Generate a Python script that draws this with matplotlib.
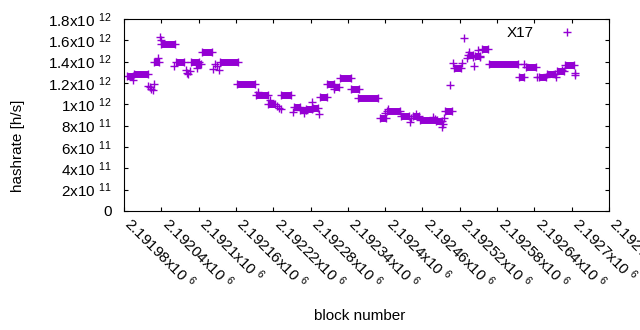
import matplotlib
matplotlib.use('Agg')
import matplotlib.pyplot as plt
import matplotlib.transforms as mtransforms

# Runs of consecutive blocks with identical hashrate (start block, end block, value in h/s)
run_start = [2191985, 2191996, 2192028, 2192040, 2192063, 2192088, 2192096, 2192105,
             2192134, 2192162, 2192192, 2192212, 2192233, 2192253, 2192263, 2192273,
             2192284, 2192296, 2192307, 2192317, 2192327, 2192345, 2192357, 2192391,
             2192403, 2192425, 2192445, 2192456, 2192482, 2192497, 2192511, 2192533,
             2192544, 2192555, 2192567, 2192615, 2192626, 2192647, 2192660, 2192676,
             2192690]
run_end = [2191994, 2192019, 2192036, 2192062, 2192076, 2192101, 2192104, 2192121,
           2192163, 2192191, 2192212, 2192223, 2192249, 2192263, 2192273, 2192282,
           2192292, 2192307, 2192318, 2192326, 2192345, 2192358, 2192389, 2192402,
           2192424, 2192439, 2192455, 2192483, 2192491, 2192507, 2192522, 2192541,
           2192553, 2192566, 2192614, 2192623, 2192643, 2192659, 2192673, 2192688,
           2192704]
run_value = [1.265e12, 1.282e12, 1.400e12, 1.563e12, 1.394e12, 1.394e12, 1.375e12, 1.488e12,
             1.394e12, 1.189e12, 1.085e12, 1.005e12, 1.085e12, 0.975e12, 0.947e12, 0.956e12,
             0.963e12, 1.072e12, 1.188e12, 1.160e12, 1.245e12, 1.141e12, 1.057e12, 0.869e12,
             0.9375e12, 0.893e12, 0.890e12, 0.850e12, 0.840e12, 0.942e12, 1.345e12, 1.460e12,
             1.450e12, 1.516e12, 1.376e12, 1.254e12, 1.348e12, 1.252e12, 1.286e12, 1.312e12,
             1.367e12]

# Isolated blocks
point_block = [2191994, 2192019, 2192022, 2192023, 2192027, 2192029, 2192035, 2192038,
               2192039, 2192061, 2192079, 2192081, 2192083, 2192086, 2192097, 2192123,
               2192126, 2192130, 2192133, 2192196, 2192215, 2192226, 2192229, 2192232,
               2192252, 2192269, 2192282, 2192294, 2192318, 2192400, 2192405, 2192440,
               2192442, 2192450, 2192477, 2192480, 2192491, 2192493, 2192495, 2192505,
               2192509, 2192523, 2192526, 2192531, 2192535, 2192542, 2192543, 2192550,
               2192552, 2192624, 2192644, 2192675, 2192685, 2192705, 2192706]
point_value = [1.228e12, 1.172e12, 1.158e12, 1.144e12, 1.134e12, 1.190e12, 1.430e12, 1.631e12,
               1.603e12, 1.359e12, 1.322e12, 1.294e12, 1.280e12, 1.315e12, 1.338e12, 1.328e12,
               1.378e12, 1.359e12, 1.322e12, 1.111e12, 1.040e12, 0.984e12, 0.966e12, 0.956e12,
               0.928e12, 0.919e12, 1.025e12, 0.909e12, 1.141e12, 0.919e12, 0.956e12, 0.837e12,
               0.872e12, 0.906e12, 0.881e12, 0.862e12, 0.790e12, 0.816e12, 0.869e12, 1.178e12,
               1.385e12, 1.390e12, 1.619e12, 1.432e12, 1.494e12, 1.447e12, 1.359e12, 1.509e12,
               1.444e12, 1.378e12, 1.259e12, 1.253e12, 1.322e12, 1.275e12, 1.298e12]

xtick_values = [2191980, 2192040, 2192100, 2192160, 2192220, 2192280, 2192340,
                2192400, 2192460, 2192520, 2192580, 2192640, 2192700, 2192760]
xtick_labels = [r'2.19198x10 $^{\mathregular{6}}$', r'2.19204x10 $^{\mathregular{6}}$',
                r'2.1921x10 $^{\mathregular{6}}$', r'2.19216x10 $^{\mathregular{6}}$',
                r'2.19222x10 $^{\mathregular{6}}$', r'2.19228x10 $^{\mathregular{6}}$',
                r'2.19234x10 $^{\mathregular{6}}$', r'2.1924x10 $^{\mathregular{6}}$',
                r'2.19246x10 $^{\mathregular{6}}$', r'2.19252x10 $^{\mathregular{6}}$',
                r'2.19258x10 $^{\mathregular{6}}$', r'2.19264x10 $^{\mathregular{6}}$',
                r'2.1927x10 $^{\mathregular{6}}$', r'2.19276x10 $^{\mathregular{6}}$']
ytick_values = [0, 2e11, 4e11, 6e11, 8e11, 1e12, 1.2e12, 1.4e12, 1.6e12, 1.8e12]
ytick_labels = ['0', r'2x10 $^{\mathregular{11}}$', r'4x10 $^{\mathregular{11}}$',
                r'6x10 $^{\mathregular{11}}$', r'8x10 $^{\mathregular{11}}$',
                r'1x10 $^{\mathregular{12}}$', r'1.2x10 $^{\mathregular{12}}$',
                r'1.4x10 $^{\mathregular{12}}$', r'1.6x10 $^{\mathregular{12}}$',
                r'1.8x10 $^{\mathregular{12}}$']

plt.rcParams['font.family'] = ['Liberation Sans', 'DejaVu Sans']
plt.rcParams['mathtext.fontset'] = 'custom'
plt.rcParams['mathtext.rm'] = 'Liberation Sans'
plt.rcParams['mathtext.it'] = 'Liberation Sans:italic'
plt.rcParams['mathtext.bf'] = 'Liberation Sans:bold'

color = '#9400d3'
fig = plt.figure(figsize=(6.4, 3.3), dpi=100)
ax = fig.add_axes([124 / 640, 1 - 211 / 330, 485 / 640, 192 / 330])

for x0, x1, v in zip(run_start, run_end, run_value):
    ax.plot([x0, x1], [v, v], color=color, lw=5, solid_capstyle='butt',
            marker='+', ms=5.2, mew=1.0)
ax.plot(point_block, point_value, ls='none', marker='+', ms=5.2, mew=1.0,
        color=color, label='X17')

ax.set_xlim(2191980, 2192760)
ax.set_ylim(0, 1.8e12)
ax.set_xticks(xtick_values)
ax.set_xticklabels(xtick_labels, rotation=-45, ha='left', va='center',
                   rotation_mode='anchor', fontsize=11)
ax.set_yticks(ytick_values)
ax.set_yticklabels(ytick_labels, fontsize=11)
ax.tick_params(direction='in', length=3, width=0.8, top=True, right=True)
ax.tick_params(axis='y', pad=9)
ax.tick_params(axis='x', pad=7)
shift = mtransforms.ScaledTranslation(4 / 100, 0, fig.dpi_scale_trans)
for lbl in ax.get_xticklabels():
    lbl.set_transform(lbl.get_transform() + shift)
for s in ax.spines.values():
    s.set_linewidth(0.8)

fig.text(360 / 640, 1 - 316 / 330, 'block number', ha='center', va='center', fontsize=11)
fig.text(18 / 640, 1 - 146 / 330, 'hashrate [h/s]', ha='center', va='center',
         rotation=90, fontsize=11)

ax.legend(loc='upper right', bbox_to_anchor=((582.6 - 124) / 485, 0.964),
          markerfirst=False, frameon=False, fontsize=11, borderpad=0,
          borderaxespad=0, handlelength=2, handletextpad=1.2)

fig.savefig('out.png', dpi=100)
